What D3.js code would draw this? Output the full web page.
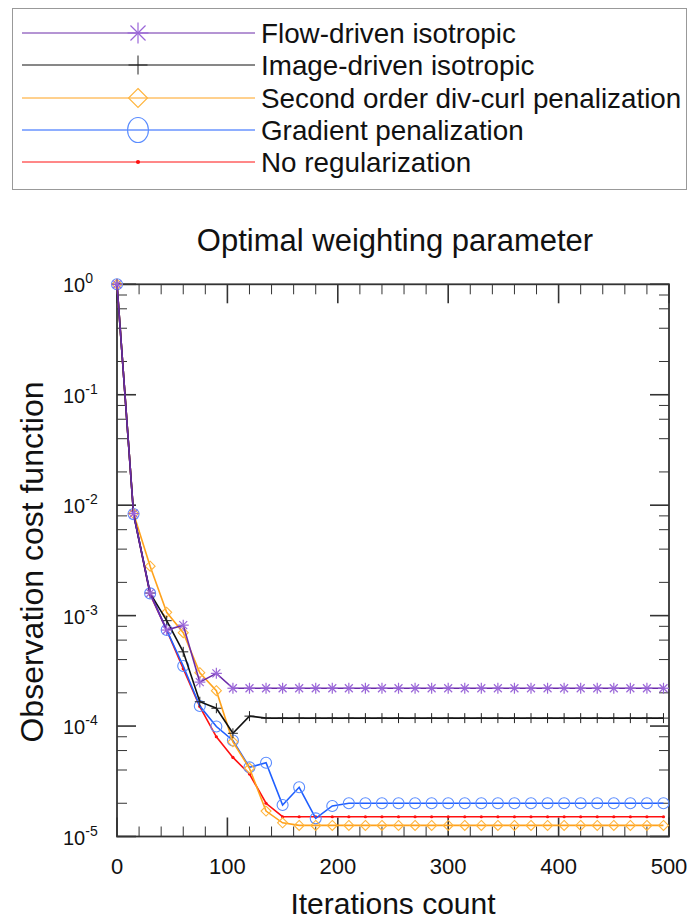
<!DOCTYPE html>
<html><head><meta charset="utf-8">
<script src="https://cdn.jsdelivr.net/npm/d3@7"></script>
<style>body{margin:0;background:#fff}svg{display:block;font-family:"Liberation Sans",Arial,sans-serif}</style>
</head><body>
<svg id="c" width="691" height="922"></svg>
<script>
const iterations = [0,15,30,45,60,75,90,105,120,135,150,165,180,195,210,225,240,255,270,285,300,315,330,345,360,375,390,405,420,435,450,465,480,495];
const flowDriven = [1,0.0084,0.0016,7.4e-4,8.2e-4,2.5e-4,3.0e-4,2.2e-4,2.2e-4,2.2e-4,2.2e-4,2.2e-4,2.2e-4,2.2e-4,2.2e-4,2.2e-4,2.2e-4,2.2e-4,2.2e-4,2.2e-4,2.2e-4,2.2e-4,2.2e-4,2.2e-4,2.2e-4,2.2e-4,2.2e-4,2.2e-4,2.2e-4,2.2e-4,2.2e-4,2.2e-4,2.2e-4,2.2e-4];
const imageDriven = [1,0.0084,0.0016,9.0e-4,4.7e-4,1.66e-4,1.45e-4,8.6e-5,1.23e-4,1.18e-4,1.18e-4,1.18e-4,1.18e-4,1.18e-4,1.18e-4,1.18e-4,1.18e-4,1.18e-4,1.18e-4,1.18e-4,1.18e-4,1.18e-4,1.18e-4,1.18e-4,1.18e-4,1.18e-4,1.18e-4,1.18e-4,1.18e-4,1.18e-4,1.18e-4,1.18e-4,1.18e-4,1.18e-4];
const divCurl = [1,0.0084,0.0028,1.07e-3,7.0e-4,3.04e-4,2.09e-4,7.2e-5,4.15e-5,1.70e-5,1.33e-5,1.26e-5,1.26e-5,1.26e-5,1.26e-5,1.26e-5,1.26e-5,1.26e-5,1.26e-5,1.26e-5,1.26e-5,1.26e-5,1.26e-5,1.26e-5,1.26e-5,1.26e-5,1.26e-5,1.26e-5,1.26e-5,1.26e-5,1.26e-5,1.26e-5,1.26e-5,1.26e-5];
const gradient = [1,0.0083,0.00159,7.4e-4,3.5e-4,1.52e-4,9.9e-5,7.4e-5,4.23e-5,4.66e-5,1.93e-5,2.79e-5,1.46e-5,1.89e-5,2.0e-5,2.0e-5,2.0e-5,2.0e-5,2.0e-5,2.0e-5,2.0e-5,2.0e-5,2.0e-5,2.0e-5,2.0e-5,2.0e-5,2.0e-5,2.0e-5,2.0e-5,2.0e-5,2.0e-5,2.0e-5,2.0e-5,2.0e-5];
const noReg = [1,0.0083,0.00155,7.4e-4,3.3e-4,1.5e-4,8.0e-5,5.2e-5,3.68e-5,2.0e-5,1.51e-5,1.51e-5,1.51e-5,1.51e-5,1.51e-5,1.51e-5,1.51e-5,1.51e-5,1.51e-5,1.51e-5,1.51e-5,1.51e-5,1.51e-5,1.51e-5,1.51e-5,1.51e-5,1.51e-5,1.51e-5,1.51e-5,1.51e-5,1.51e-5,1.51e-5,1.51e-5,1.51e-5];
const seriesNames = ["Flow-driven isotropic","Image-driven isotropic","Second order div-curl penalization","Gradient penalization","No regularization"];
const xTicks = [0,100,200,300,400,500];
const yExponents = [0,-1,-2,-3,-4,-5];

const svg = d3.select("#c");
const x = d3.scaleLinear().domain([0,500]).range([117,669]);
const y = d3.scaleLog().domain([1e-5,1]).range([836.5,284.3]);

const styles = [
  {name:seriesNames[0], data:flowDriven, line:"#6a2aa8", mark:"#9a66d8", shape:"star"},
  {name:seriesNames[1], data:imageDriven, line:"#111", mark:"#222", shape:"plus"},
  {name:seriesNames[2], data:divCurl, line:"#ffa21c", mark:"#ffb43c", shape:"diamond"},
  {name:seriesNames[3], data:gradient, line:"#1f5fff", mark:"#5a8cff", shape:"circle"},
  {name:seriesNames[4], data:noReg, line:"#ff1010", mark:"#ff1010", shape:"dot"}
];

function marker(g, shape, color, cx, cy, s) {
  s = s || 1;
  if (shape === "star") {
    const r = 5.5*s;
    [[0,1],[1,0],[0.72,0.72],[0.72,-0.72]].forEach(([a,b]) => {
      g.append("line").attr("x1",cx-a*r).attr("y1",cy-b*r).attr("x2",cx+a*r).attr("y2",cy+b*r)
        .attr("stroke",color).attr("stroke-width",1.2);
    });
  } else if (shape === "plus") {
    const r = 5*s;
    g.append("line").attr("x1",cx).attr("y1",cy-r).attr("x2",cx).attr("y2",cy+r).attr("stroke",color).attr("stroke-width",1);
    g.append("line").attr("x1",cx-r).attr("y1",cy).attr("x2",cx+r).attr("y2",cy).attr("stroke",color).attr("stroke-width",1);
  } else if (shape === "diamond") {
    const r = 5*s;
    g.append("path").attr("d",`M${cx},${cy-r}L${cx+r},${cy}L${cx},${cy+r}L${cx-r},${cy}Z`)
      .attr("fill","none").attr("stroke",color).attr("stroke-width",1.1);
  } else if (shape === "circle") {
    g.append("ellipse").attr("cx",cx).attr("cy",cy).attr("rx",5.5*s).attr("ry",5.5*s*(s>1?1.2:1))
      .attr("fill","none").attr("stroke",color).attr("stroke-width",1.1);
  } else {
    g.append("circle").attr("cx",cx).attr("cy",cy).attr("r",1.6*s).attr("fill",color);
  }
}

// Legend
svg.append("rect").attr("x",12.5).attr("y",8.5).attr("width",674).attr("height",181)
  .attr("fill","none").attr("stroke","#999").attr("stroke-width",1);
const rowY = [33,65,98,130,162];
styles.forEach((s,i) => {
  const g = svg.append("g");
  g.append("line").attr("x1",22).attr("x2",255).attr("y1",rowY[i]).attr("y2",rowY[i]).attr("stroke",s.line).attr("stroke-width",1);
  marker(g, s.shape, s.mark, 138, rowY[i], s.shape==="dot"?1.3:1.9);
  g.append("text").attr("x",261).attr("y",rowY[i]+10).attr("font-size",27.8).attr("fill","#111").text(s.name);
});

// Title
svg.append("text").attr("x",395).attr("y",251).attr("text-anchor","middle").attr("font-size",31).attr("fill","#111").text("Optimal weighting parameter");

// Frame
const x0 = x(0), x1 = x(500), yT = y(1), yB = y(1e-5);
const axisColor = "#333";
const tg = svg.append("g").attr("stroke",axisColor);
for (let v=0; v<=500; v+=20) {
  const major = xTicks.includes(v);
  const L = major ? 19 : 10;
  tg.append("line").attr("x1",x(v)).attr("x2",x(v)).attr("y1",yB).attr("y2",yB-L).attr("stroke-width",major?1.6:1);
  tg.append("line").attr("x1",x(v)).attr("x2",x(v)).attr("y1",yT).attr("y2",yT+L).attr("stroke-width",major?1.6:1);
}
yExponents.forEach(e => {
  const base = Math.pow(10,e);
  [[1,19],[2,10],[4,10],[6,10],[8,10]].forEach(([m,L]) => {
    const v = base*m;
    if (v > 1 || v < 1e-5) return;
    tg.append("line").attr("x1",x0).attr("x2",x0+L).attr("y1",y(v)).attr("y2",y(v)).attr("stroke-width",m===1?1.6:1);
    tg.append("line").attr("x1",x1).attr("x2",x1-L).attr("y1",y(v)).attr("y2",y(v)).attr("stroke-width",m===1?1.6:1);
  });
});
svg.append("rect").attr("x",x0).attr("y",yT).attr("width",x1-x0).attr("height",yB-yT)
  .attr("fill","none").attr("stroke",axisColor).attr("stroke-width",1.8);

// Tick labels
xTicks.forEach(v => {
  svg.append("text").attr("x",x(v)).attr("y",874).attr("text-anchor","middle").attr("font-size",22).attr("fill","#111").text(v);
});
yExponents.forEach(e => {
  const t = svg.append("text").attr("x",63).attr("y",y(Math.pow(10,e))+8).attr("font-size",20).attr("fill","#111");
  t.append("tspan").text("10");
  t.append("tspan").attr("dy",-9).attr("font-size",14).text(e);
});

// Axis titles
svg.append("text").attr("x",393).attr("y",914).attr("text-anchor","middle").attr("font-size",30).attr("fill","#111").text("Iterations count");
svg.append("text").attr("transform","translate(43,562) rotate(-90)").attr("text-anchor","middle").attr("font-size",32).attr("fill","#111").text("Observation cost function");

// Series
const line = d3.line().x((d,i)=>x(iterations[i])).y(d=>y(d));
const drawOrder = [4,3,2,1,0];
drawOrder.forEach(k => {
  const s = styles[k];
  const g = svg.append("g");
  g.append("path").attr("d",line(s.data)).attr("fill","none").attr("stroke",s.line).attr("stroke-width",1.6);
  s.data.forEach((d,i) => marker(g, s.shape, s.mark, x(iterations[i]), y(d), 1));
});
</script>
</body></html>
